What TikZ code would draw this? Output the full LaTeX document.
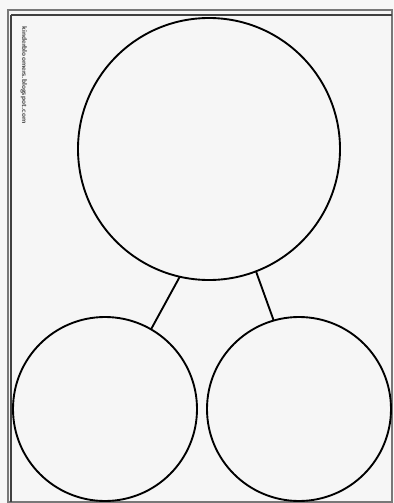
\documentclass[tikz,border=0pt]{standalone}
\usepackage{xcolor}
\usetikzlibrary{positioning}

\definecolor{paper}{RGB}{246,246,246}
\definecolor{frame}{RGB}{120,120,120}

\tikzset{
  bubble/.style={circle, draw=black, line width=1.6pt, fill=paper, inner sep=0pt},
  link/.style={line width=1.6pt, line cap=round},
}

\begin{document}
\begin{tikzpicture}[x=0.03cm, y=-0.03cm]
			% page size and background
			\useasboundingbox (0,0) rectangle (394,503);
			\fill[white!94!gray] (0,0) rectangle (394,503);
			% sheet with double edge
			\fill[paper] (8,10) rectangle (392,502);
			\draw[frame, line width=1.1pt] (8,10) rectangle (392,502);
			\draw[black!75, line width=1.1pt] (11,15) -- (392,15);
			\draw[black!75, line width=1.1pt] (11,15) -- (11,502);
			% site credit down the left side
			\node[rotate=-90, font=\sffamily\bfseries\fontsize{6.2}{7}\selectfont, text=black!75] (credit) at (24,75)
			{kinderbloomers.blogspot.com};
			% main idea and two details
			\node[bubble, minimum size=262*0.03cm] (main) at (209,149) {};
			\node[bubble, minimum size=184*0.03cm] (left) at (105,409) {};
			\node[bubble, minimum size=184*0.03cm] (right) at (299,409) {};
			% connectors
			\draw[link] (main.-103.6) -- (left.60);
			\draw[link] (main.-69.6) -- (right.106);
		\end{tikzpicture}
\end{document}
